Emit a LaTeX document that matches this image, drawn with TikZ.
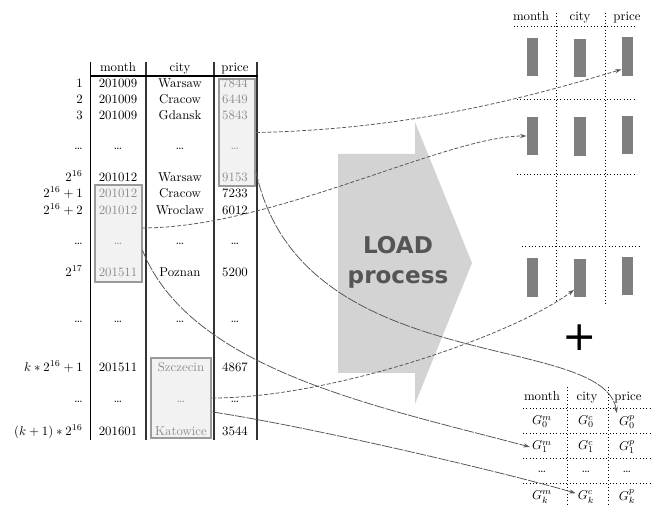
\documentclass[tikz,border=0pt]{standalone}
\usepackage{fontspec}
\newfontfamily\loadfont{DejaVu Sans}
\usetikzlibrary{arrows.meta,calc}
\definecolor{hlfill}{HTML}{F2F2F2}
\definecolor{hldraw}{HTML}{9A9A9A}
\definecolor{hltext}{HTML}{8C8C8C}
\definecolor{loadfill}{HTML}{D3D3D3}
\definecolor{loadtext}{HTML}{555555}
\definecolor{barfill}{HTML}{7F7F7F}
\definecolor{linkcol}{HTML}{555555}

\begin{document}
\begin{tikzpicture}[
  x=0.78pt,y=-0.78pt,
  cell/.style={inner sep=0pt,text height=1.5ex,text depth=.25ex},
  rowlabel/.style={cell,anchor=east},
  faded/.style={cell,text=hltext},
  hlbox/.style={draw=hldraw,line width=1.5pt,fill=hlfill,inner sep=0pt},
  colbar/.style={fill=barfill,draw=none,inner sep=0pt,
    minimum width=9pt,minimum height=30pt},
  gcell/.style={inner sep=1.5pt},
  dotline/.style={dotted,line width=0.6pt},
  tablerule/.style={draw=black!80,line width=0.9pt},
  connector/.style={-{Stealth[length=5pt,width=3.2pt]},draw=linkcol,line width=0.6pt},
  shortdash/.style={dash pattern=on 3pt off 1.5pt},
  longdash/.style={dash pattern=on 8pt off 1pt}
]
\useasboundingbox (0,0) rectangle (651,506);

% highlighted blocks of the source table
\node[hlbox,minimum width=28pt,minimum height=83.5pt] (pricebox) at (237,132.5) {};
\node[hlbox,minimum width=36pt,minimum height=75pt] (monthbox) at (118.5,233.5) {};
\node[hlbox,minimum width=47.5pt,minimum height=63pt] (citybox) at (181,398) {};

% source table
\draw[black,line width=0.7pt] (90,62) -- (90,440);
\draw[tablerule] (146,62) -- (146,440);
\draw[tablerule] (214,62) -- (214,440);
\draw[tablerule] (257,62) -- (257,440);
\draw[black,line width=0.8pt] (90,76) -- (258,76);

\node[cell] (hmonth) at (118,68) {month};
\node[cell] (hcity) at (180,68) {city};
\node[cell] (hprice) at (235,68) {price};

\node[rowlabel] (l1) at (83,84) {$1$};
\node[cell] (m1) at (118,84) {201009};
\node[cell] (c1) at (180,84) {Warsaw};
\node[faded] (p1) at (235,84) {7844};

\node[rowlabel] (l2) at (83,100) {$2$};
\node[cell] (m2) at (118,100) {201009};
\node[cell] (c2) at (180,100) {Cracow};
\node[faded] (p2) at (235,100) {6449};

\node[rowlabel] (l3) at (83,116) {$3$};
\node[cell] (m3) at (118,116) {201009};
\node[cell] (c3) at (180,116) {Gdansk};
\node[faded] (p3) at (235,116) {5843};

\node[rowlabel] (ld1) at (83,146) {\ldots};
\node[cell] (md1) at (118,146) {\ldots};
\node[cell] (cd1) at (180,146) {\ldots};
\node[faded] (pd1) at (235,146) {\ldots};

\node[rowlabel] (l4) at (83,178) {$2^{16}$};
\node[cell] (m4) at (118,178) {201012};
\node[cell] (c4) at (180,178) {Warsaw};
\node[faded] (p4) at (235,178) {9153};

\node[rowlabel] (l5) at (83,194) {$2^{16}+1$};
\node[faded] (m5) at (118,194) {201012};
\node[cell] (c5) at (180,194) {Cracow};
\node[cell] (p5) at (235,194) {7233};

\node[rowlabel] (l6) at (83,211) {$2^{16}+2$};
\node[faded] (m6) at (118,211) {201012};
\node[cell] (c6) at (180,211) {Wroclaw};
\node[cell] (p6) at (235,211) {6012};

\node[rowlabel] (ld2) at (83,241.5) {\ldots};
\node[faded] (md2) at (118,241.5) {\ldots};
\node[cell] (cd2) at (180,241.5) {\ldots};
\node[cell] (pd2) at (235,241.5) {\ldots};

\node[rowlabel] (l7) at (83,273) {$2^{17}$};
\node[faded] (m7) at (118,273) {201511};
\node[cell] (c7) at (180,273) {Poznan};
\node[cell] (p7) at (235,273) {5200};

\node[rowlabel] (ld3) at (83,319.5) {\ldots};
\node[cell] (md3) at (118,319.5) {\ldots};
\node[cell] (cd3) at (180,319.5) {\ldots};
\node[cell] (pd3) at (235,319.5) {\ldots};

\node[rowlabel] (l8) at (83,368) {$k*2^{16}+1$};
\node[cell] (m8) at (118,368) {201511};
\node[faded] (c8) at (181,368) {Szczecin};
\node[cell] (p8) at (235,368) {4867};

\node[rowlabel] (ld4) at (83,399.5) {\ldots};
\node[cell] (md4) at (118,399.5) {\ldots};
\node[faded] (cd4) at (181,399.5) {\ldots};
\node[cell] (pd4) at (235,399.5) {\ldots};

\node[rowlabel] (l9) at (83,432) {$(k+1)*2^{16}$};
\node[cell] (m9) at (118,432) {201601};
\node[faded] (c9) at (181,432) {Katowice};
\node[cell] (p9) at (235,432) {3544};

% load arrow
\fill[loadfill] (338,154) -- (415,154) -- (415,122) -- (472,263)
  -- (415,404) -- (415,373) -- (338,373) -- cycle;
\node[font=\loadfont\bfseries\fontsize{18}{23.5}\selectfont,
  text=loadtext,align=center] (load) at (398,262) {LOAD\\process};

% column groups after loading
\draw[dotline] (556,13) -- (556,300);
\draw[dotline] (605,13) -- (605,306);
\draw[dotline] (514,26) -- (637,26);
\draw[dotline] (517,99) -- (637,99);
\draw[dotline] (517,174) -- (637,174);
\draw[dotline] (522,246) -- (640,246);

\node[cell] (tmonth) at (531,17) {month};
\node[cell] (tcity) at (580,17) {city};
\node[cell] (tprice) at (627,17) {price};

\node[colbar] (bm1) at (532.5,57) {};
\node[colbar] (bc1) at (580,58) {};
\node[colbar] (bp1) at (627.5,56.5) {};
\node[colbar] (bm2) at (532.5,136) {};
\node[colbar] (bc2) at (580,136.5) {};
\node[colbar] (bp2) at (627.5,135) {};
\node[colbar] (bm3) at (532.5,277.5) {};
\node[colbar] (bc3) at (580,278) {};
\node[colbar] (bp3) at (627.5,276) {};

\node[font=\loadfont\fontsize{32}{32}\selectfont] (plus) at (580,338) {+};

% group dictionaries
\draw[dotline] (567,387) -- (567,506);
\draw[dotline] (608,387) -- (608,506);
\draw[dotline] (523,408) -- (651,408);
\draw[dotline] (523,433) -- (651,433);
\draw[dotline] (523,458) -- (651,458);
\draw[dotline] (523,483) -- (651,483);

\node[cell] (dmonth) at (542,397) {month};
\node[cell] (dcity) at (587,397) {city};
\node[cell] (dprice) at (628,397) {price};

\node[gcell] (gm0) at (542,422) {$G_0^m$};
\node[gcell] (gc0) at (586,422) {$G_0^c$};
\node[gcell] (gp0) at (627,422) {$G_0^p$};
\node[gcell] (gm1) at (542,447) {$G_1^m$};
\node[gcell] (gc1) at (586,447) {$G_1^c$};
\node[gcell] (gp1) at (627,447) {$G_1^p$};
\node[cell] (gmd) at (542,469) {\ldots};
\node[cell] (gcd) at (586,469) {\ldots};
\node[cell] (gpd) at (627,469) {\ldots};
\node[gcell] (gmk) at (542,497) {$G_k^m$};
\node[gcell] (gck) at (586,497) {$G_k^c$};
\node[gcell] (gpk) at (627,497) {$G_k^p$};

% connectors
\draw[connector,shortdash] (pricebox.east)
  .. controls +(150,-3) and +(-100,30) .. (bp1.-115);
\draw[connector,shortdash] (monthbox.13)
  .. controls +(130,0) and +(-80,0) .. (bm2.west);
\draw[connector,shortdash] (citybox.east)
  .. controls +(120,0) and +(-60,45) .. (bc3.-117);
\draw[connector,longdash] (pricebox.-64)
  .. controls +(44,208) and +(-14,-83) .. (gp0.north west);
\draw[connector,longdash] (monthbox.-35)
  .. controls +(48,120) and +(-150,-40) .. (gm1.west);
\draw[connector,longdash] (citybox.-24)
  .. controls +(100,15) and +(-60,-18) .. (gck.160);

\end{tikzpicture}
\end{document}
